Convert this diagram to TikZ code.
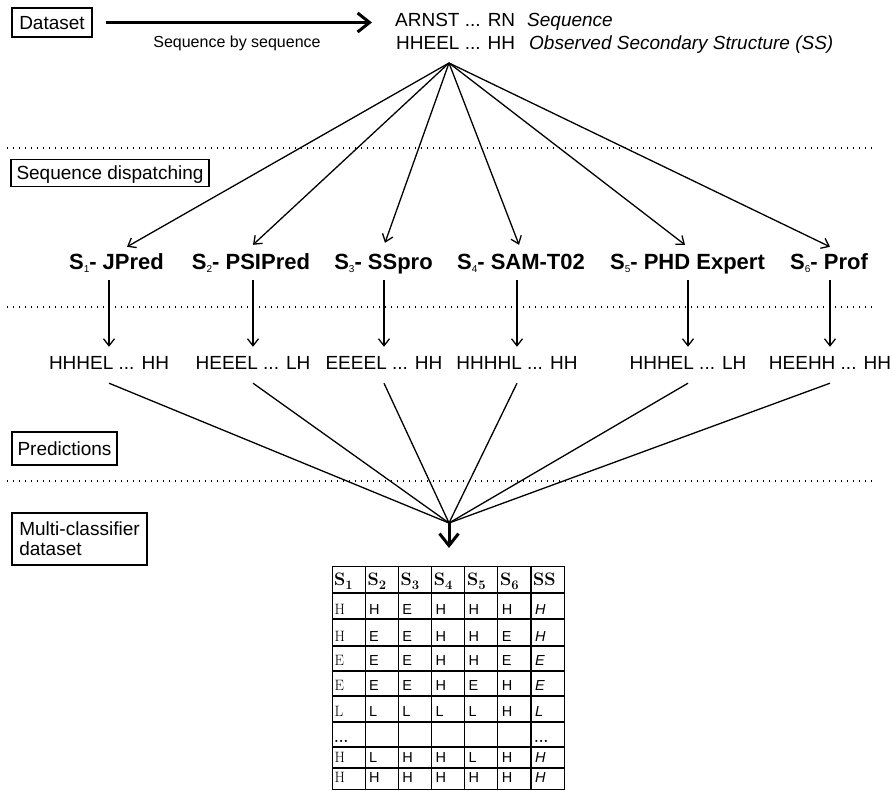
\documentclass[tikz,border=0pt]{standalone}
\usepackage{fontspec}
\setsansfont{Liberation Sans}
\usetikzlibrary{arrows.meta}
% small index digit after the S of a tool name
\newcommand{\toolidx}[1]{\raisebox{-2.5pt}{\fontsize{10}{10}\selectfont\mdseries #1}}
% bold subscript digit in the table header
\newcommand{\hdidx}[1]{\raisebox{-4pt}{\fontsize{13}{13}\selectfont #1}}
\begin{document}
\begin{tikzpicture}[x=1pt, y=-1pt,
  every node/.style={inner sep=0pt, font=\sffamily\fontsize{19}{22}\selectfont},
  stagebox/.style={draw, line width=1.1pt, text height=13.6pt, text depth=0pt},
  toolname/.style={font=\sffamily\bfseries\fontsize{22}{24}\selectfont, text height=16pt, text depth=5pt, anchor=base},
  predtext/.style={text height=14pt, text depth=0pt, anchor=base},
  wire/.style={line width=1.3pt},
  arr/.style={wire, -{Straight Barb[length=7pt,width=11pt]}},
  bigarr/.style={line width=3pt, -{Straight Barb[length=12pt,width=19pt]}},
  sepline/.style={line width=1.3pt, dash pattern=on 1.3pt off 4.7pt},
  gridline/.style={line width=1.2pt},
  cellrm/.style={anchor=base west, font=\rmfamily\fontsize{15}{17}\selectfont},
  cellsf/.style={anchor=base west, font=\sffamily\fontsize{14.5}{17}\selectfont},
  cellit/.style={anchor=base west, font=\sffamily\itshape\fontsize{14.5}{17}\selectfont},
  cellhd/.style={anchor=base west, font=\rmfamily\bfseries\fontsize{18}{20}\selectfont},
]
\useasboundingbox (0,0) rectangle (892,791);

% ---- stage labels on the left
\node[stagebox, minimum width=80, minimum height=29] (dataset) at (52,22.5) {Dataset};
\node[stagebox, minimum width=198, minimum height=27] (dispatch) at (110,173) {Sequence dispatching};
\node[stagebox, minimum width=105, minimum height=33] (predlbl) at (64.5,448.5) {Predictions};
\node[draw, line width=1.1pt, minimum width=135, minimum height=52, align=left,
      font=\sffamily\fontsize{19}{20}\selectfont] (multi) at (79.5,539) {Multi-classifier\\dataset};

% ---- separators between the stages
\foreach \y in {148,307,481}
  \draw[sepline] (7,\y) -- (873,\y);

% ---- one sequence of the dataset
\node[anchor=base west] (seq) at (395,27) {ARNST ... RN};
\node[anchor=base west] (obs) at (396,50) {HHEEL ... HH};
\node[anchor=base west, font=\sffamily\itshape\fontsize{19}{22}\selectfont] (seqtag) at (527,27) {Sequence};
\node[anchor=base west, font=\sffamily\itshape\fontsize{19}{22}\selectfont] (obstag) at (529,50) {Observed Secondary Structure (SS)};

\draw[bigarr, shorten <=13pt, shorten >=23pt] (dataset.east) -- (dataset.east -| seq.west);
\node[anchor=base, font=\sffamily\fontsize{16}{18}\selectfont] (bylbl) at (237,48) {Sequence by sequence};

% ---- the six predictors
\node[toolname] (s1) at (116.5,270) {S\toolidx{1}- JPred};
\node[toolname] (s2) at (251,270) {S\toolidx{2}- PSIPred};
\node[toolname] (s3) at (383.5,270) {S\toolidx{3}- SSpro};
\node[toolname] (s4) at (521,270) {S\toolidx{4}- SAM-T02};
\node[toolname] (s5) at (687.5,270) {S\toolidx{5}- PHD Expert};
\node[toolname] (s6) at (829,270) {S\toolidx{6}- Prof};

\coordinate (fan) at (449,63);
\foreach \t/\dx/\dy in {s1/10.5/7, s2/2/9, s3/1.5/11, s4/-2/9, s5/-2.5/9, s6/1/7}
  \draw[arr] (fan) -- ([xshift=\dx pt, yshift=\dy pt]\t.north);

% ---- their predictions
\node[predtext] (p1) at (109,370) {HHHEL ... HH};
\node[predtext] (p2) at (253,370) {HEEEL ... LH};
\node[predtext] (p3) at (384,370) {EEEEL ... HH};
\node[predtext] (p4) at (517,370) {HHHHL ... HH};
\node[predtext] (p5) at (688,370) {HHHEL ... LH};
\node[predtext] (p6) at (830,370) {HEEHH ... HH};

\foreach \i in {1,...,6}
  \draw[arr, shorten <=5pt, shorten >=9pt] (p\i.north |- s\i.south) -- (p\i.north);

% ---- predictions gathered into one record
\coordinate (conv) at (449,523);
\foreach \i in {1,...,6}
  \draw[wire] ([yshift=-13pt]p\i.south) -- (conv);

% ---- multi-classifier table
\node[draw, line width=1.3pt, minimum width=232, minimum height=223, anchor=north west] (tab) at (332,566) {};
\draw[bigarr, shorten >=18pt] (conv) -- (conv |- tab.north);

\foreach \x in {365.1,398.3,431.4,464.6,497.7,530.9}
  \draw[gridline] (\x,566) -- (\x,789);
\foreach \y in {593,619,696,722,747,768}
  \draw[gridline] (332,\y) -- (564,\y);
\foreach \y in {646,671}
  \draw[line width=1.8pt] (332,\y) -- (564,\y);

% header
\foreach \k/\x in {1/334,2/367.3,3/400.5,4/433.6,5/466.8,6/499.9}
  \node[cellhd] at (\x,585) {S\hdidx{\k}};
\node[cellhd] at (533,585) {SS};

% body rows
\foreach \base/\a/\b/\c/\d/\e/\f/\g in {
    614/H/H/E/H/H/H/H, 641/H/E/E/H/H/E/H, 665.5/E/E/E/H/H/E/E,
    690.5/E/E/E/H/E/H/E, 716/L/L/L/L/L/H/L, 762/H/L/H/H/L/H/H,
    782.5/H/H/H/H/H/H/H} {
  \node[cellrm] at (334.5,\base) {\a};
  \node[cellsf] at (369,\base) {\b};
  \node[cellsf] at (402.2,\base) {\c};
  \node[cellsf] at (435.3,\base) {\d};
  \node[cellsf] at (468.5,\base) {\e};
  \node[cellsf] at (501.6,\base) {\f};
  \node[cellit] at (534.8,\base) {\g};
}
\node[cellrm, font=\rmfamily\bfseries\fontsize{15}{17}\selectfont] at (334,742) {...};
\node[cellrm, font=\rmfamily\bfseries\fontsize{15}{17}\selectfont] at (534,742) {...};
\end{tikzpicture}
\end{document}
